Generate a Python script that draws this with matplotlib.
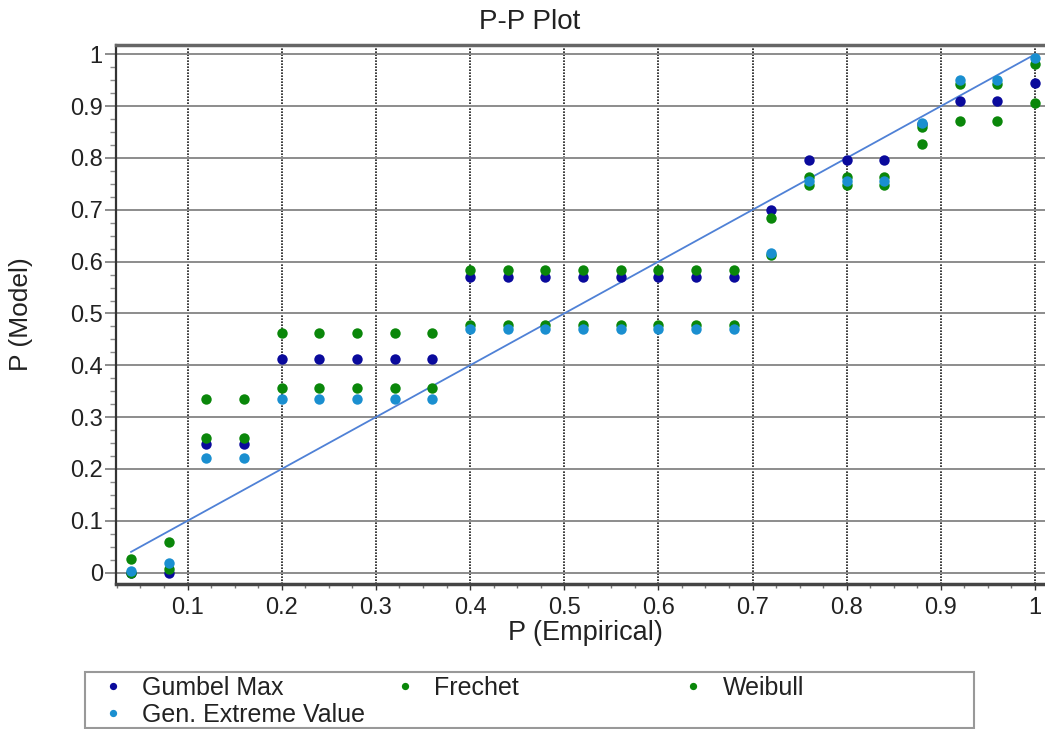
# P-P plot: four fitted extreme-value models against empirical probabilities
import numpy as np
import matplotlib.pyplot as plt
from matplotlib.patches import Rectangle
from matplotlib.ticker import MultipleLocator, FuncFormatter

plt.rcParams["font.family"] = ["Liberation Sans", "DejaVu Sans"]

# empirical plotting positions
p_emp = [0.04, 0.08, 0.12, 0.16, 0.20, 0.24, 0.28, 0.32, 0.36, 0.40,
         0.44, 0.48, 0.52, 0.56, 0.60, 0.64, 0.68, 0.72, 0.76, 0.80,
         0.84, 0.88, 0.92, 0.96, 1.00]

gumbel = [0.000, 0.000, 0.248, 0.248, 0.413, 0.413, 0.413, 0.413, 0.413, 0.571,
          0.571, 0.571, 0.571, 0.571, 0.571, 0.571, 0.571, 0.700, 0.797, 0.797,
          0.797, 0.865, 0.910, 0.910, 0.944]
frechet = [0.000, 0.007, 0.260, 0.260, 0.357, 0.357, 0.357, 0.357, 0.357, 0.478,
           0.478, 0.478, 0.478, 0.478, 0.478, 0.478, 0.478, 0.613, 0.748, 0.748,
           0.748, 0.860, 0.943, 0.943, 0.981]
weibull = [0.026, 0.060, 0.335, 0.335, 0.462, 0.462, 0.462, 0.462, 0.462, 0.583,
           0.583, 0.583, 0.583, 0.583, 0.583, 0.583, 0.583, 0.684, 0.764, 0.764,
           0.764, 0.827, 0.872, 0.872, 0.907]
gev = [0.003, 0.018, 0.222, 0.222, 0.335, 0.335, 0.335, 0.335, 0.335, 0.470,
       0.470, 0.470, 0.470, 0.470, 0.470, 0.470, 0.470, 0.616, 0.756, 0.756,
       0.756, 0.868, 0.950, 0.950, 0.992]

series = [("Gumbel Max", gumbel, "#0a0a9c"),
          ("Frechet", frechet, "#0a870a"),
          ("Weibull", weibull, "#0a870a"),
          ("Gen. Extreme Value", gev, "#1a8fd0")]

W, H = 1045, 729
fig = plt.figure(figsize=(W / 100, H / 100), dpi=100)
ax = fig.add_axes([116 / W, 1 - 584 / H, 1 - 116 / W, (584 - 45) / H])

# reference line y = x
ax.plot([p_emp[0], p_emp[-1]], [p_emp[0], p_emp[-1]], color="#4f81d6", lw=1.3, zorder=2)

handles = {}
for name, vals, col in series:
    h, = ax.plot(p_emp, vals, "o", ms=7.5, mew=0, color=col, label=name, zorder=3)
    handles[name] = h

ax.set_xlim(0.024, 1.0106)
ax.set_ylim(-0.022, 1.018)
ax.xaxis.set_major_locator(MultipleLocator(0.1))
ax.xaxis.set_minor_locator(MultipleLocator(0.025))
ax.yaxis.set_major_locator(MultipleLocator(0.1))
ax.yaxis.set_minor_locator(MultipleLocator(0.025))
fmt = FuncFormatter(lambda v, pos: f"{v:g}")
ax.xaxis.set_major_formatter(fmt)
ax.yaxis.set_major_formatter(fmt)

ax.grid(True, axis="y", which="major", color="#8c8c8c", lw=1.4, zorder=1)
ax.grid(True, axis="x", which="major", color="#1a1a1a", lw=1.2, ls=(0, (1, 0.8)), zorder=1)
ax.set_axisbelow(True)

ax.tick_params(axis="y", which="major", length=8, width=1.4, color="#8c8c8c",
               labelsize=17, pad=1.5, labelcolor="#222222")
ax.tick_params(axis="y", which="minor", length=4.3, width=1.0, color="#8c8c8c")
ax.tick_params(axis="x", which="major", length=4.3, width=1.0, color="#333333",
               labelsize=17, pad=5, labelcolor="#222222")
ax.tick_params(axis="x", which="minor", length=3, width=1.0, color="#777777")

ax.spines["top"].set_color("#666666")
ax.spines["top"].set_linewidth(2.5)
ax.spines["bottom"].set_color("#444444")
ax.spines["bottom"].set_linewidth(2.5)
ax.spines["left"].set_color("#333333")
ax.spines["left"].set_linewidth(1.6)
ax.spines["right"].set_visible(False)

ax.set_xlabel("P (Empirical)", fontsize=19.5, color="#222222")
ax.set_ylabel("P (Model)", fontsize=19, color="#222222")
ax.xaxis.set_label_coords(0.505, -0.066)
ax.yaxis.set_label_coords(-0.089, 0.5)

fig.text(530 / W, 1 - 29 / H, "P-P Plot", fontsize=20, ha="center", va="baseline",
         color="#222222")

# legend box with three columns
fig.add_artist(Rectangle((85 / W, 1 - 728 / H), (974 - 85) / W, (728 - 672) / H,
                         transform=fig.transFigure, fill=False, ec="#999999", lw=1.5))
cols = [(["Gumbel Max", "Gen. Extreme Value"], 100),
        (["Frechet"], 392),
        (["Weibull"], 680)]
for names, xpx in cols:
    fig.legend([handles[n] for n in names], names, loc="upper left",
               bbox_to_anchor=(xpx / W, 1 - 676 / H), frameon=False,
               fontsize=18, markerscale=0.7, handlelength=1.0, handletextpad=0.7,
               borderpad=0, borderaxespad=0, labelspacing=0.12, labelcolor="#222222")

fig.savefig("out.png", dpi=100)
